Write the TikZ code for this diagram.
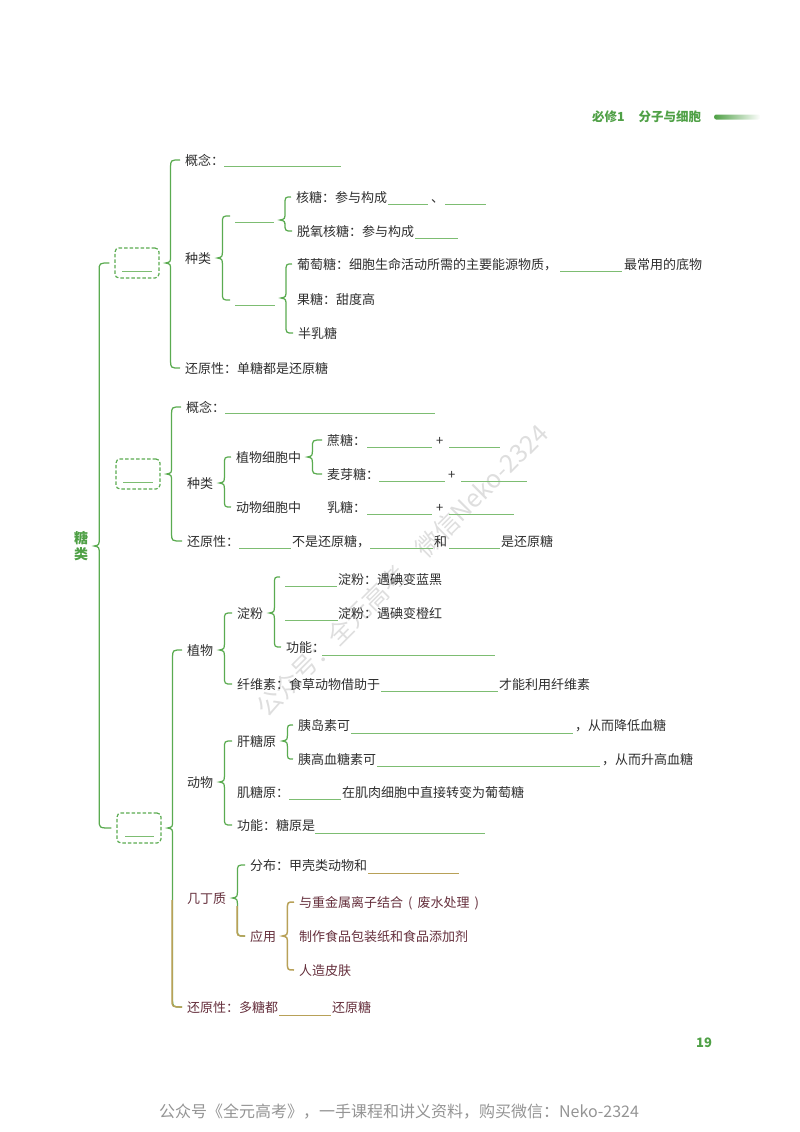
\documentclass[tikz,border=0pt]{standalone}
\usepackage{fontspec}
\setmainfont{Noto Sans CJK SC}
\usetikzlibrary{calc}
\definecolor{lgreen}{HTML}{5AAB50}
\definecolor{lblank}{HTML}{7DBD72}
\definecolor{lolive}{HTML}{B8A158}
\definecolor{ltext}{HTML}{2E2E2E}
\definecolor{lmaroon}{HTML}{652F3C}
\definecolor{ltitle}{HTML}{4FA046}
\tikzset{
  txt/.style={anchor=west, inner sep=0pt, text height=12pt, text depth=1pt, text=ltext, font=\fontsize{13}{13}\selectfont},
  txtm/.style={txt, text=lmaroon},
  blank/.style={anchor=west, fill=lblank, inner sep=0pt, minimum height=0.9pt, minimum width=#1},
  blankm/.style={blank=#1, fill=lolive},
  dashbox/.style={draw=lgreen, line width=1.2pt, dash pattern=on 3.5pt off 2pt, rounded corners=4pt, inner sep=0pt, minimum width=44pt, minimum height=30pt},
  brc/.style={draw=lgreen, line width=1.25pt},
  brco/.style={draw=lolive, line width=1.5pt},
  mark wm/.style={text=black!13, font=\fontsize{25}{25}\selectfont, inner sep=0pt}
}
% style, parent, first child, last child
\newcommand{\bracelink}[4][brc]{
  \draw[#1] let \p1=(#2.east), \p2=(#3.west), \p3=(#4.west), \n1={\x1+6pt}, \n2={\x1+11pt} in
    (\x2-5pt,\y2) .. controls (\n2,\y2) .. (\n2,\y2-8pt) -- (\n2,\y1+8pt)
    .. controls (\n2,\y1+1pt) .. (\n1,\y1) .. controls (\n2,\y1-1pt) .. (\n2,\y1-8pt)
    -- (\n2,\y3+8pt) .. controls (\n2,\y3) .. (\x3-5pt,\y3);
}
% lower end of a brace in the second colour: cut point, last child
\newcommand{\bracetail}[2]{
  \draw[brco] let \p1=(#1), \p3=(#2.west) in
    (\p1) -- (\x1,\y3+8pt) .. controls (\x1,\y3) .. (\x3-5pt,\y3);
}
\begin{document}
\begin{tikzpicture}[x=1pt,y=-1pt]
  \useasboundingbox (0,0) rectangle (800,1132);
  % watermarks
  \node[mark wm, rotate=45] (wm) at (402,570) {公众号：全元高考\quad 微信Neko-2324};
  \node[anchor=center, inner sep=0pt, text=black!42, font=\fontsize{16}{16}\selectfont] (foot) at (399,1112) {公众号《全元高考》，一手课程和讲义资料，购买微信：Neko-2324};
  % header
  \node[anchor=west, inner sep=0pt, text=ltitle, font=\fontsize{12.5}{12.5}\selectfont\bfseries] (head) at (592,117) {必修1\hspace{1.1em}分子与细胞};
  \node[anchor=west, inner sep=0pt, minimum width=46pt, minimum height=5pt, left color=ltitle, right color=white, rounded corners=2pt] (bar) at (714,117) {};
  \node[anchor=center, inner sep=0pt, text=ltitle, font=\fontsize{13}{13}\selectfont\bfseries] (page) at (704,1043) {19};
  % root
  \node[inner sep=0pt, align=center, text=ltitle, font=\fontsize{14}{16}\selectfont\bfseries] (root) at (81,546) {糖\\类};
  \node[dashbox] (b1) at (137,263) {};
  \node[dashbox] (b2) at (138,474) {};
  \node[dashbox] (b3) at (139,828) {};
  \node[blank=30pt] (b1a) at (122,271) {};
  \node[blank=30pt] (b2a) at (123,482) {};
  \node[blank=29pt] (b3a) at (125,836) {};
  \bracelink{root}{b1}{b3}
  % monosaccharides
  \node[txt] (a1) at (185,160) {概念：};
  \node[blank=117pt] (a1b) at (224,166) {};
  \node[txt] (a2) at (185,258) {种类};
  \node[txt] (a3) at (185,368) {还原性：单糖都是还原糖};
  \bracelink{b1}{a1}{a3}
  \node[blank=39pt] (a21) at (235,222) {};
  \node[blank=40pt] (a22) at (235,305) {};
  \coordinate (a21u) at (235,216);
  \coordinate (a22u) at (235,300);
  \bracelink{a2}{a21u}{a22u}
  \node[txt] (a211) at (296,197) {核糖：参与构成};
  \node[blank=40pt] (a211b) at (388,204) {};
  \node[txt] (a211c) at (431,197) {、};
  \node[blank=41pt] (a211d) at (445,204) {};
  \node[txt] (a212) at (297,231) {脱氧核糖：参与构成};
  \node[blank=43pt] (a212b) at (415,238) {};
  \coordinate (a21t) at (274,220);
  \bracelink{a21t}{a211}{a212}
  \node[txt] (a221) at (297,264) {葡萄糖：细胞生命活动所需的主要能源物质，};
  \node[blank=62pt] (a221b) at (560,271) {};
  \node[txt] (a221c) at (624,264) {最常用的底物};
  \node[txt] (a222) at (297,299) {果糖：甜度高};
  \node[txt] (a223) at (298,333) {半乳糖};
  \coordinate (a22t) at (275,298);
  \bracelink{a22t}{a221}{a223}
  % disaccharides
  \node[txt] (c1) at (186,407) {概念：};
  \node[blank=210pt] (c1b) at (225,413) {};
  \node[txt] (c2) at (187,483) {种类};
  \node[txt] (c3) at (187,541) {还原性：};
  \node[blank=52pt] (c3b) at (239,548) {};
  \node[txt] (c3c) at (292,541) {不是还原糖，};
  \node[blank=63pt] (c3d) at (370,548) {};
  \node[txt] (c3e) at (434,541) {和};
  \node[blank=51pt] (c3f) at (449,548) {};
  \node[txt] (c3g) at (501,541) {是还原糖};
  \bracelink{b2}{c1}{c3}
  \node[txt] (c21) at (236,457) {植物细胞中};
  \node[txt] (c22) at (236,507) {动物细胞中};
  \bracelink{c2}{c21}{c22}
  \node[txt] (c211) at (327,440) {蔗糖：};
  \node[blank=65pt] (c211b) at (367,447) {};
  \node[txt] (c211c) at (436,440) {+};
  \node[blank=51pt] (c211d) at (449,447) {};
  \node[txt] (c212) at (327,474) {麦芽糖：};
  \node[blank=66pt] (c212b) at (379,481) {};
  \node[txt] (c212c) at (448,474) {+};
  \node[blank=66pt] (c212d) at (461,481) {};
  \bracelink{c21}{c211}{c212}
  \node[txt] (c221) at (327,507) {乳糖：};
  \node[blank=65pt] (c221b) at (367,514) {};
  \node[txt] (c221c) at (436,507) {+};
  \node[blank=65pt] (c221d) at (449,514) {};
  % polysaccharides
  \node[txt] (d1) at (187,650) {植物};
  \node[txt] (d2) at (187,782) {动物};
  \node[txtm] (d3) at (187,898) {几丁质};
  \node[txtm] (d4) at (187,1007) {还原性：多糖都};
  \node[blankm=52pt] (d4b) at (279,1015) {};
  \node[txtm] (d4c) at (332,1007) {还原糖};
  \bracelink{b3}{d1}{d4}
  \coordinate (cut1) at (172,900);
  \bracetail{cut1}{d4}
  \node[txt] (d11) at (237,613) {淀粉};
  \node[txt] (d12) at (237,684) {纤维素：食草动物借助于};
  \node[blank=117pt] (d12b) at (381,691) {};
  \node[txt] (d12c) at (499,684) {才能利用纤维素};
  \bracelink{d1}{d11}{d12}
  \node[blank=52pt] (d111) at (285,586) {};
  \coordinate (d111u) at (285,577);
  \node[txt] (d111c) at (338,579) {淀粉：遇碘变蓝黑};
  \node[blank=53pt] (d112) at (285,620) {};
  \node[txt] (d112c) at (338,613) {淀粉：遇碘变橙红};
  \node[txt] (d113) at (286,647) {功能：};
  \node[blank=173pt] (d113b) at (322,655) {};
  \bracelink{d11}{d111u}{d113}
  \node[txt] (d21) at (237,741) {肝糖原};
  \node[txt] (d22) at (237,792) {肌糖原：};
  \node[blank=52pt] (d22b) at (289,799) {};
  \node[txt] (d22c) at (342,792) {在肌肉细胞中直接转变为葡萄糖};
  \node[txt] (d23) at (237,825) {功能：糖原是};
  \node[blank=170pt] (d23b) at (315,833) {};
  \bracelink{d2}{d21}{d23}
  \node[txt] (d211) at (298,725) {胰岛素可};
  \node[blank=222pt] (d211b) at (351,733) {};
  \node[txt] (d211c) at (575,725) {，从而降低血糖};
  \node[txt] (d212) at (298,759) {胰高血糖素可};
  \node[blank=223pt] (d212b) at (377,766) {};
  \node[txt] (d212c) at (602,759) {，从而升高血糖};
  \bracelink{d21}{d211}{d212}
  \node[txt] (d31) at (250,865) {分布：甲壳类动物和};
  \node[blankm=91pt] (d31b) at (368,873) {};
  \node[txtm] (d32) at (250,936) {应用};
  \bracelink{d3}{d31}{d32}
  \coordinate (cut2) at (237,906);
  \bracetail{cut2}{d32}
  \node[txtm] (d321) at (299,902) {与重金属离子结合\hspace{5pt}(\hspace{5pt}废水处理\hspace{5pt})};
  \node[txtm] (d322) at (299,936) {制作食品包装纸和食品添加剂};
  \node[txtm] (d323) at (299,970) {人造皮肤};
  \bracelink[brco]{d32}{d321}{d323}
\end{tikzpicture}
\end{document}
